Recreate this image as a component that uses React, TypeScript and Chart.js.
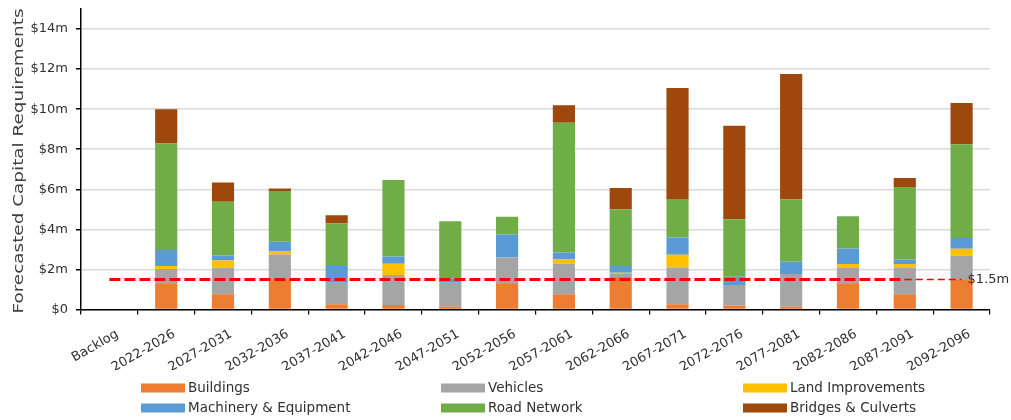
import React, { useEffect, useRef } from 'react';
import { Chart, registerables } from 'chart.js';

Chart.register(...registerables);

const categories = [
  'Backlog', '2022-2026', '2027-2031', '2032-2036', '2037-2041', '2042-2046', '2047-2051', '2052-2056',
  '2057-2061', '2062-2066', '2067-2071', '2072-2076', '2077-2081', '2082-2086', '2087-2091', '2092-2096',
];

const buildings = [0, 1.27, 0.76, 1.55, 0.26, 0.22, 0.14, 1.27, 0.76, 1.62, 0.26, 0.2, 0.14, 1.27, 0.76, 1.47];
const vehicles = [0, 0.75, 1.33, 1.2, 1.08, 1.5, 1.2, 1.33, 1.54, 0.15, 1.84, 1.02, 1.63, 0.8, 1.34, 1.21];
const landImprovements = [0, 0.15, 0.35, 0.15, 0, 0.56, 0, 0, 0.2, 0.06, 0.63, 0, 0, 0.2, 0.17, 0.35];
const machinery = [0, 0.8, 0.26, 0.48, 0.88, 0.37, 0.22, 1.15, 0.35, 0.34, 0.87, 0.42, 0.61, 0.78, 0.23, 0.54];
const roadNetwork = [0, 5.32, 2.68, 2.53, 2.08, 3.81, 2.85, 0.88, 6.47, 2.84, 1.91, 2.87, 3.12, 1.6, 3.62, 4.68];
const bridges = [0, 1.7, 0.96, 0.13, 0.4, 0, 0, 0, 0.88, 1.05, 5.55, 4.66, 6.26, 0, 0.44, 2.06];
const thresholdLine = [1.5, 1.5, 1.5, 1.5, 1.5, 1.5, 1.5, 1.5, 1.5, 1.5, 1.5, 1.5, 1.5, 1.5, 1.5, 1.5];
const thresholdLabel = '$1.5m';

const seriesNames = [
  'Buildings', 'Vehicles', 'Land Improvements', 'Machinery & Equipment', 'Road Network', 'Bridges & Culverts',
];
const seriesColors = ['#ED7D31', '#A5A5A5', '#FFC000', '#5B9BD5', '#70AD47', '#9E480E'];
const seriesData = [buildings, vehicles, landImprovements, machinery, roadNetwork, bridges];

const yTitle = 'Forecasted Capital Requirements';
const FONT = '"DejaVu Sans", "Liberation Sans", sans-serif';
const TEXT_COLOR = '#303030';

const yTitlePlugin = {
  id: 'yTitleStretched',
  afterDraw(chart: any) {
    const { ctx } = chart;
    ctx.save();
    ctx.font = `14px ${FONT}`;
    ctx.fillStyle = '#404040';
    ctx.translate(19, 161);
    ctx.rotate(-Math.PI / 2);
    const w = ctx.measureText(yTitle).width;
    ctx.scale(305 / w, 1);
    ctx.textAlign = 'center';
    ctx.textBaseline = 'middle';
    ctx.fillText(yTitle, 0, 0);
    ctx.restore();
  },
};

const thresholdLabelPlugin = {
  id: 'thresholdLabel',
  afterDatasetsDraw(chart: any) {
    const meta = chart.getDatasetMeta(6);
    const pts = meta.data;
    if (!pts.length) return;
    const last = pts[pts.length - 1];
    const { ctx } = chart;
    ctx.save();
    ctx.font = `13px ${FONT}`;
    ctx.fillStyle = TEXT_COLOR;
    ctx.textAlign = 'left';
    ctx.textBaseline = 'middle';
    ctx.fillText(thresholdLabel, last.x + 6, last.y);
    ctx.restore();
  },
};

const legendPlugin = {
  id: 'gridLegend',
  afterDraw(chart: any) {
    const { ctx } = chart;
    const colX = [141, 441, 743];
    const rowY = [388, 408];
    ctx.save();
    ctx.font = `13.5px ${FONT}`;
    ctx.textAlign = 'left';
    ctx.textBaseline = 'middle';
    seriesNames.forEach((name, i) => {
      const x = colX[i % 3];
      const y = rowY[Math.floor(i / 3)];
      ctx.fillStyle = seriesColors[i];
      ctx.fillRect(x, y - 4.5, 44, 9);
      ctx.fillStyle = TEXT_COLOR;
      ctx.fillText(name, x + 47, y);
    });
    ctx.restore();
  },
};

export default function App() {
  const ref = useRef<HTMLCanvasElement>(null);

  useEffect(() => {
    document.body.style.margin = '0';
    const canvas = ref.current;
    if (!canvas) return;
    const lastIdx = categories.length - 1;

    const barSets = seriesNames.map((name, i) => ({
      type: 'bar' as const,
      label: name,
      data: seriesData[i],
      backgroundColor: seriesColors[i],
      borderWidth: 0,
      stack: 'capital',
      order: 1,
      barPercentage: 0.39,
      categoryPercentage: 1,
    }));

    const chart = new Chart(canvas, {
      type: 'bar',
      data: {
        labels: categories,
        datasets: [
          ...barSets,
          {
            type: 'line' as const,
            label: 'Threshold',
            data: thresholdLine,
            borderColor: '#FF0000',
            backgroundColor: '#FF0000',
            borderWidth: 3,
            borderDash: [11, 4],
            pointRadius: 0,
            fill: false,
            tension: 0,
            stack: 'threshold',
            order: 0,
            segment: {
              borderWidth: (c: any) => (c.p1DataIndex === lastIdx ? 1.5 : 3),
              borderDash: (c: any) => (c.p1DataIndex === lastIdx ? [7, 4] : [11, 4]),
            },
          } as any,
        ],
      },
      options: {
        animation: false,
        responsive: true,
        maintainAspectRatio: false,
        layout: { padding: { top: 9, right: 21, bottom: 50, left: 0 } },
        plugins: {
          legend: { display: false },
          tooltip: { enabled: false },
          title: { display: false },
        },
        scales: {
          x: {
            stacked: true,
            grid: {
              display: true,
              drawOnChartArea: false,
              drawTicks: true,
              tickLength: 5,
              color: '#000000',
              lineWidth: 1.2,
              offset: true,
            },
            border: { display: true, color: '#000000', width: 1.5 },
            ticks: {
              autoSkip: false,
              maxRotation: 30,
              minRotation: 30,
              padding: 12,
              labelOffset: 8,
              color: TEXT_COLOR,
              font: { family: FONT, size: 13 },
            },
            afterFit: (scale: any) => {
              scale.height = 60.5;
              scale.paddingLeft = 0;
              scale.paddingRight = 0;
            },
          },
          y: {
            stacked: true,
            min: 0,
            max: 15,
            ticks: {
              stepSize: 2,
              padding: 8,
              color: TEXT_COLOR,
              font: { family: FONT, size: 13 },
              callback: (v: any) => (Number(v) === 0 ? '$0' : `$${v}m`),
            },
            afterBuildTicks: (axis: any) => {
              axis.ticks = axis.ticks.filter((t: any) => t.value <= 14);
            },
            grid: {
              color: '#D9D9D9',
              lineWidth: 1.5,
              tickColor: '#000000',
              tickLength: 5,
              drawTicks: true,
            },
            border: { display: true, color: '#000000', width: 1.5 },
            afterFit: (scale: any) => {
              scale.width = 81;
              scale.paddingTop = 0;
              scale.paddingBottom = 0;
            },
          },
        },
      },
      plugins: [yTitlePlugin, thresholdLabelPlugin, legendPlugin],
    });

    return () => chart.destroy();
  }, []);

  return (
    <div style={{ position: 'relative', width: 1011, height: 420 }}>
      <canvas ref={ref} />
    </div>
  );
}
